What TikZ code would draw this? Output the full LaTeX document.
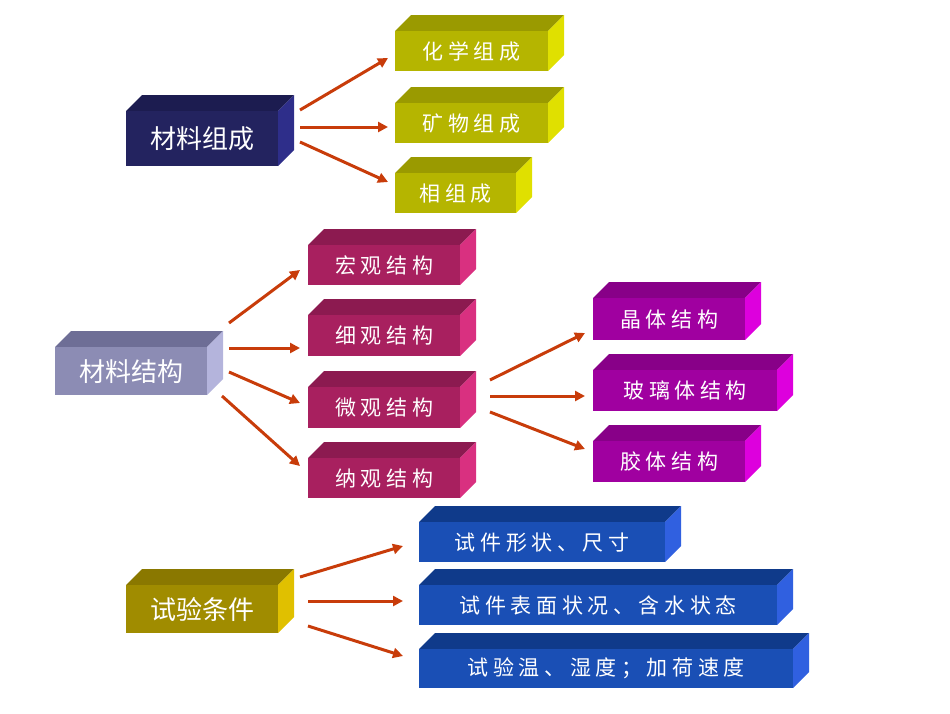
\documentclass[tikz,border=0pt]{standalone}
\usepackage{fontspec}
\newfontfamily\cjk{Noto Sans CJK SC}
\newfontfamily\cjkw[LetterSpace=22]{Noto Sans CJK SC}
\usetikzlibrary{arrows.meta}
\definecolor{arr}{HTML}{C83C0A}
\newcommand{\cube}[9]{%
 \definecolor{cf}{HTML}{#6}\definecolor{ct}{HTML}{#7}\definecolor{cs}{HTML}{#8}%
 \fill[ct] (#2,#3) -- ++(16,-16) -- (#4+16,#3-16) -- (#4,#3) -- cycle;
 \fill[cs] (#4,#3) -- (#4+16,#3-16) -- (#4+16,#5-16) -- (#4,#5) -- cycle;
 \node[fill=cf, minimum width=#4-#2, minimum height=#5-#3, inner sep=0pt, anchor=north west, text=white] (#1) at (#2,#3) {#9};}
\tikzset{ar/.style={draw=arr, line width=3pt, -{Triangle[length=10pt,width=10pt]}}}
\begin{document}
\begin{tikzpicture}[x=1pt,y=-1pt]
\useasboundingbox (0,0) rectangle (950,713);
\def\L{\fontsize{26}{30}\cjk}
\def\R{\fontsize{21}{26}\cjkw}
\cube{a}{126}{111}{278}{166}{23235F}{1C1C50}{2E2E8A}{\L 材料组成}
\cube{a1}{395}{31}{548}{71}{B5B500}{9A9A00}{E0E000}{\R 化学组成}
\cube{a2}{395}{103}{548}{143}{B5B500}{9A9A00}{E0E000}{\R 矿物组成}
\cube{a3}{395}{173}{516}{213}{B5B500}{9A9A00}{E0E000}{\R 相组成}
\cube{b}{55}{347}{207}{395}{8C8CB4}{6E6E96}{B4B4DC}{\L 材料结构}
\cube{b1}{308}{245}{460}{285}{A8205F}{8C1A50}{D93080}{\R 宏观结构}
\cube{b2}{308}{315}{460}{356}{A8205F}{8C1A50}{D93080}{\R 细观结构}
\cube{b3}{308}{387}{460}{428}{A8205F}{8C1A50}{D93080}{\R 微观结构}
\cube{b4}{308}{458}{460}{498}{A8205F}{8C1A50}{D93080}{\R 纳观结构}
\cube{c1}{593}{298}{745}{340}{A000A0}{880088}{DD00DD}{\R 晶体结构}
\cube{c2}{593}{370}{777}{411}{A000A0}{880088}{DD00DD}{\R 玻璃体结构}
\cube{c3}{593}{441}{745}{482}{A000A0}{880088}{DD00DD}{\R 胶体结构}
\cube{d}{126}{585}{278}{633}{A08C00}{8A7800}{E0C000}{\L 试验条件}
\cube{d1}{419}{522}{665}{562}{1A4FB5}{0F3A8A}{3060E0}{\R 试件形状、尺寸}
\cube{d2}{419}{585}{777}{625}{1A4FB5}{0F3A8A}{3060E0}{\R 试件表面状况、含水状态}
\cube{d3}{419}{649}{793}{688}{1A4FB5}{0F3A8A}{3060E0}{\R 试验温、湿度；加荷速度}
\draw[ar] (300,110) -- (388,58);
\draw[ar] (300,127) -- (388,127);
\draw[ar] (300,142) -- (388,182);
\draw[ar] (229,323) -- (300,270);
\draw[ar] (229,348) -- (300,348);
\draw[ar] (229,372) -- (300,403);
\draw[ar] (222,396) -- (300,466);
\draw[ar] (490,380) -- (585,333);
\draw[ar] (490,396) -- (585,396);
\draw[ar] (490,412) -- (585,449);
\draw[ar] (300,577) -- (403,546);
\draw[ar] (308,601) -- (403,601);
\draw[ar] (308,626) -- (403,656);
\end{tikzpicture}
\end{document}
